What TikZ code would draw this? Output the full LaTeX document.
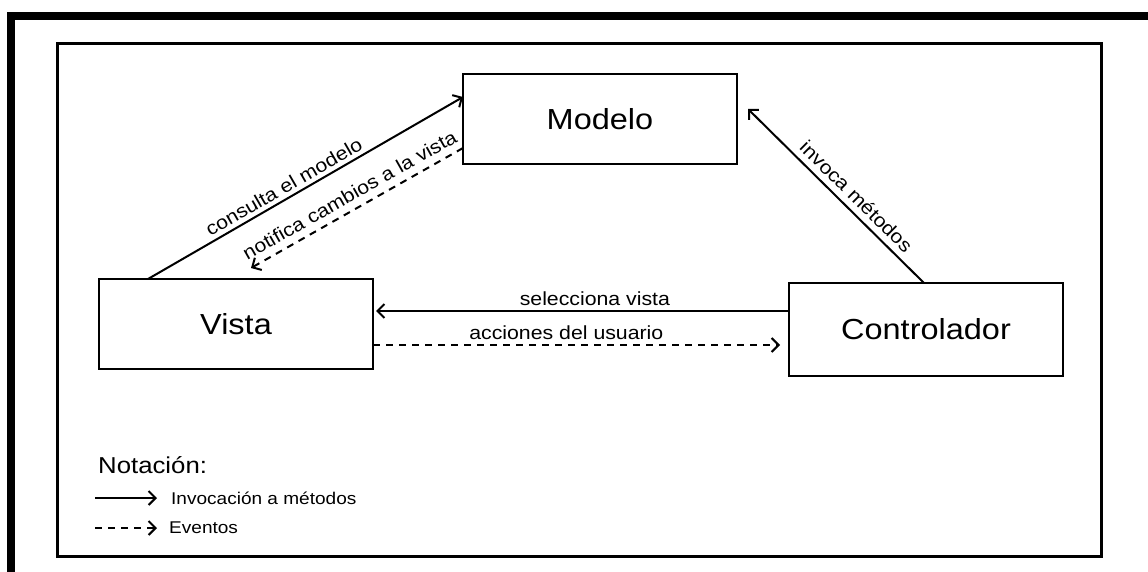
\documentclass[tikz,border=0pt]{standalone}
\usepackage{fontspec}
\setmainfont{Liberation Sans}[FakeStretch=1.12]
\usetikzlibrary{arrows.meta, positioning, calc}

\begin{document}
\begin{tikzpicture}[x=1pt, y=-1pt,
  box/.style={draw, line width=2.4pt, rectangle, outer sep=0pt, minimum width=274pt, minimum height=90pt, font=\fontsize{29}{34}\selectfont},
  call/.style={line width=2pt, -{Straight Barb[length=7pt, width=14pt]}},
  event/.style={call, dash pattern=on 7pt off 6pt},
  lbl/.style={font=\fontsize{19}{22}\selectfont, inner sep=4pt},
  legtext/.style={font=\fontsize{17}{20}\selectfont, anchor=west, inner sep=0pt}]
\useasboundingbox (0,0) rectangle (1148,572);
\clip (0,0) rectangle (1148,572);
% frames
\draw[line width=8pt] (11,16) rectangle (1151.5,600);
\draw[line width=3pt] (57.5,43.5) rectangle (1101.5,556.5);

\node[box] (modelo) at (600,119) {Modelo};
\node[box] (vista) [below left=115pt and 90pt of modelo] {Vista};
\node[box, minimum height=93pt] (controlador) [right=416pt of vista, yshift=-5.5pt] {Controlador};

\draw[call] ([xshift=49pt]vista.north west) -- ([yshift=-23pt]modelo.north west)
  node[lbl, pos=0.45, above, sloped] (lblconsulta) {consulta el modelo};
\draw[event] ([yshift=-74pt]modelo.north west) -- ([xshift=152pt, yshift=11pt]vista.north west)
  node[lbl, pos=0.5, above=3pt, sloped] (lblnotifica) {notifica cambios a la vista};
\draw[call] ([xshift=-2pt]controlador.north) -- ([xshift=11pt, yshift=-35pt]modelo.north east)
  node[lbl, pos=0.44, above=2pt, sloped] (lblinvoca) {invoca métodos};
\draw[call] ([yshift=-28pt]controlador.north west) -- ([xshift=3pt, yshift=-32pt]vista.north east)
  node[lbl, pos=0.47, above] (lblselecciona) {selecciona vista};
\draw[event] ([yshift=-66pt]vista.north east) -- ([xshift=-9pt, yshift=-62pt]controlador.north west)
  node[lbl, pos=0.475, above] (lblacciones) {acciones del usuario};

% notation
\node[font=\fontsize{23}{27}\selectfont, anchor=west, inner sep=0pt] (notacion) at (98,465) {Notación:};
\node[legtext] (leginv) at (171,498) {Invocación a métodos};
\node[legtext] (legev) at (169,528) {Eventos};
\draw[call] ([xshift=-76pt]leginv.west) -- ([xshift=-14pt]leginv.west);
\draw[event] ([xshift=-74pt]legev.west) -- ([xshift=-12pt]legev.west);
\end{tikzpicture}
\end{document}
